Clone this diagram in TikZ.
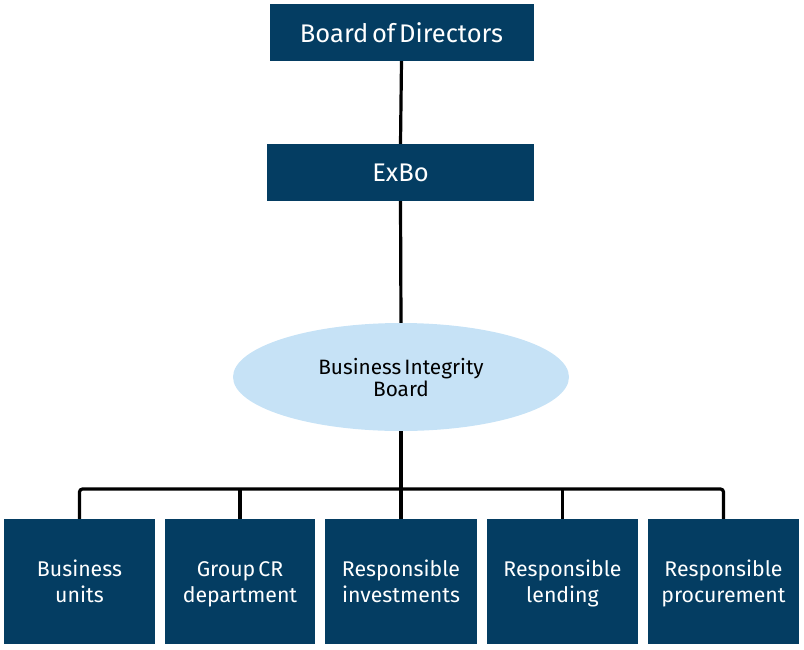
\documentclass[tikz,border=0pt]{standalone}
\usepackage{fontspec}
\setmainfont{Fira Sans}[WordSpace=0.55]
\usetikzlibrary{shapes.geometric}
\definecolor{navy}{RGB}{4,61,98}
\definecolor{lightblue}{RGB}{198,226,246}
\tikzset{
  topbox/.style={fill=navy, draw=none, text=white, minimum width=264pt, minimum height=57pt, inner sep=0pt, font=\fontsize{25.5}{28}\selectfont},
  botbox/.style={fill=navy, draw=none, text=white, minimum width=151pt, minimum height=125pt, inner sep=0pt},
  bottext/.style={text=white, align=center, inner sep=0pt, font=\fontsize{21.3}{26}\selectfont},
  conn/.style={line width=3.2pt, black},
}
\begin{document}
\begin{tikzpicture}[x=1pt,y=-1pt]
\useasboundingbox (0,0) rectangle (804,649);
\node[topbox] (bod) at (401.5,32.5) {Board of Directors};
\node[topbox, minimum width=267pt] (exbo) at (400.5,172.5) {ExBo};
\node[ellipse, fill=lightblue, minimum width=336pt, minimum height=108pt, inner sep=0pt] (bib) at (401,377) {};
\node[align=center, inner sep=0pt, font=\fontsize{20.8}{22.5}\selectfont] (bibt) at ([yshift=-4pt]bib.center) {\strut Business Integrity\\\strut Board};
\node[botbox] (b1) at (79.5,581.5) {};
\node[botbox, minimum width=150pt] (b2) at (240,581.5) {};
\node[botbox, minimum width=152pt] (b3) at (401,581.5) {};
\node[botbox] (b4) at (562.5,581.5) {};
\node[botbox] (b5) at (723.5,581.5) {};
\foreach \b/\t in {b1/{Business\\\strut units}, b2/{Group CR\\\strut department}, b3/{Responsible\\\strut investments}, b4/{Responsible\\\strut lending}, b5/{Responsible\\\strut procurement}}
  \node[bottext] (\b t) at ([yshift=-3pt]\b.center) {\strut\t};
\coordinate (bar) at (401,489);
\draw[conn] (bod.south) -- (exbo.north);
\draw[conn] (exbo.south) -- (bib.north);
\draw[conn] (bib.south) -- (bar);
\draw[conn, rounded corners=3pt] (b1.north) |- (bar) -| (b5.north);
\draw[conn] (b2.north) -- (b2.north |- bar);
\draw[conn] (b3.north) -- (bar);
\draw[conn] (b4.north) -- (b4.north |- bar);
\end{tikzpicture}
\end{document}
